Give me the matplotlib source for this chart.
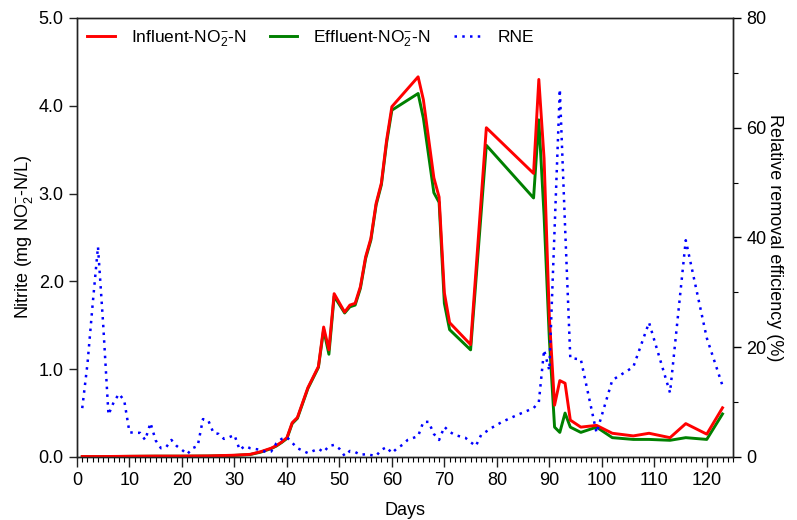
import matplotlib
matplotlib.use("Agg")
import matplotlib.pyplot as plt
from matplotlib.ticker import MultipleLocator, FormatStrFormatter

plt.rcParams['font.family'] = ['Liberation Sans', 'DejaVu Sans']
plt.rcParams['mathtext.fontset'] = 'custom'
plt.rcParams['mathtext.rm'] = 'Liberation Sans'
plt.rcParams['mathtext.it'] = 'Liberation Sans'

# Nitrite concentrations (mg NO2--N/L)
days_conc = [1, 5, 10, 15, 20, 25, 30, 33, 35, 37, 38, 39, 40, 41, 42, 44, 46, 47,
             48, 49, 51, 52, 53, 54, 55, 56, 57, 58, 59, 60, 65, 66, 68, 69, 70, 71,
             75, 78, 87, 88, 89, 90, 91, 92, 93, 94, 96, 99, 102, 106, 109, 113,
             116, 120, 123]
influent = [0.005, 0.005, 0.008, 0.01, 0.01, 0.012, 0.02, 0.03, 0.06, 0.10, 0.13,
            0.17, 0.22, 0.39, 0.45, 0.79, 1.03, 1.48, 1.22, 1.86, 1.65, 1.73, 1.75,
            1.94, 2.28, 2.49, 2.89, 3.12, 3.61, 3.99, 4.33, 4.07, 3.18, 2.96, 1.87,
            1.53, 1.28, 3.75, 3.23, 4.30, 3.40, 1.60, 0.59, 0.87, 0.84, 0.42, 0.34,
            0.36, 0.27, 0.24, 0.27, 0.22, 0.38, 0.26, 0.56]
effluent = [0.004, 0.004, 0.007, 0.009, 0.009, 0.011, 0.018, 0.028, 0.055, 0.095,
            0.125, 0.165, 0.21, 0.38, 0.44, 0.78, 1.02, 1.45, 1.17, 1.83, 1.64, 1.71,
            1.73, 1.92, 2.26, 2.47, 2.87, 3.10, 3.58, 3.95, 4.14, 3.86, 3.01, 2.90,
            1.75, 1.45, 1.22, 3.55, 2.95, 3.84, 2.75, 1.35, 0.34, 0.28, 0.50, 0.34,
            0.28, 0.34, 0.22, 0.20, 0.20, 0.19, 0.22, 0.20, 0.49]

# Relative nitrite removal efficiency (%)
days_rne = [1, 2, 3, 4, 5, 6, 7, 8, 9, 10, 11, 12, 13, 14, 15, 16, 17, 18, 19, 20,
            21, 22, 23, 24, 25, 26, 27, 28, 29, 30, 31, 32, 33, 35, 36, 37, 38, 39,
            40, 41, 42, 44, 46, 47, 48, 49, 50, 51, 52, 53, 54, 55, 57, 58, 59, 60,
            61, 62, 63, 65, 66, 67, 68, 69, 70, 71, 72, 74, 75, 76, 77, 79, 81, 84,
            87, 88, 89, 90, 92, 93, 94, 96, 99, 102, 106, 109, 113, 116, 120, 123]
rne = [8.9, 17, 28, 38.3, 24, 7.7, 10, 11.5, 10.3, 4.5, 4.4, 4.4, 3.1, 6.2, 3.0,
       1.6, 1.8, 3.1, 2.0, 1.3, 0.5, 1.6, 2.0, 6.9, 6.7, 4.4, 4.2, 3.3, 3.6, 4.0,
       1.3, 2.0, 1.6, 1.3, 0.9, 1.0, 2.5, 3.3, 3.6, 2.6, 1.6, 0.7, 1.5, 0.9, 2.0,
       2.2, 1.5, 0.2, 1.1, 0.9, 0.4, 0.5, 0.2, 1.3, 1.8, 0.7, 1.6, 2.2, 3.1, 3.8,
       6.4, 6.4, 4.2, 3.1, 5.5, 4.6, 4.0, 3.5, 2.7, 2.0, 4.0, 5.3, 6.4, 7.7, 8.9,
       10.0, 19.5, 15.8, 67, 42, 18, 17.8, 4.4, 14, 16.4, 24.5, 11.7, 39.5, 21.7,
       13.0]

fig = plt.figure(figsize=(7.97, 5.2), dpi=100)
ax = fig.add_axes([0.0966, 0.1212, 0.8231, 0.8442])
ax2 = ax.twinx()

l_eff, = ax.plot(days_conc, effluent, color='#008000', lw=2.1, zorder=2,
                 label=r'Effluent-NO$_2^{-}$-N')
l_inf, = ax.plot(days_conc, influent, color='#ff0000', lw=2.1, zorder=3,
                 label=r'Influent-NO$_2^{-}$-N')
l_rne, = ax2.plot(days_rne, rne, color='#0000ff', lw=1.8, ls=(0, (1, 2.1)),
                  label='RNE')

ax.set_xlim(0, 125)
ax.set_ylim(0, 5)
ax2.set_ylim(0, 80)

ax.xaxis.set_major_locator(MultipleLocator(10))
ax.xaxis.set_minor_locator(MultipleLocator(1))
ax.yaxis.set_major_locator(MultipleLocator(1))
ax.yaxis.set_major_formatter(FormatStrFormatter('%.1f'))
ax2.yaxis.set_major_locator(MultipleLocator(20))
ax2.yaxis.set_minor_locator(MultipleLocator(10))

for a in (ax, ax2):
    for s in a.spines.values():
        s.set_linewidth(1.0)
        s.set_color('#222222')
ax.tick_params(axis='both', which='major', direction='out', length=6, width=1,
               labelsize=13, color='#222222')
ax.tick_params(axis='x', which='minor', direction='out', length=3.5, width=0.8)
ax.tick_params(axis='x', which='major', length=7)
ax2.tick_params(axis='y', which='major', direction='out', length=6, width=1,
                labelsize=13)
ax2.tick_params(axis='y', which='minor', direction='out', length=3.5, width=0.8)

ax.set_xlabel('Days', fontsize=13, labelpad=10)
ax.set_ylabel(r'Nitrite (mg NO$_2^{-}$-N/L)', fontsize=13, labelpad=3)
ax2.set_ylabel('Relative removal efficiency (%)', fontsize=13, rotation=270,
               va='center', ha='center')
ax2.yaxis.set_label_coords(1.064, 0.5)

ax.legend(handles=[l_inf, l_eff, l_rne], loc='upper left', ncol=3, frameon=False,
          fontsize=12.5, handlelength=1.6, handletextpad=0.92, columnspacing=1.35,
          borderaxespad=0.2, borderpad=0.38, bbox_to_anchor=(0.0, 1.0))

fig.savefig('out.png', dpi=100)
